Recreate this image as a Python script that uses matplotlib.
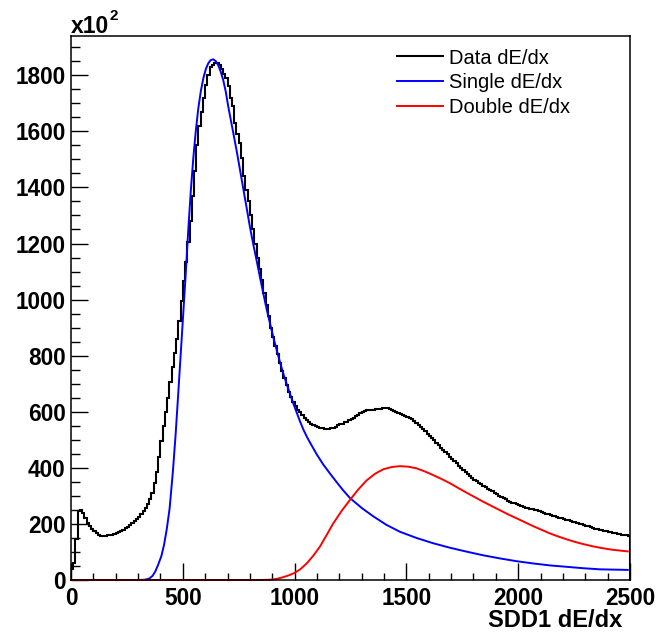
import matplotlib
matplotlib.use("Agg")
import matplotlib.pyplot as plt
from matplotlib.ticker import MultipleLocator
import numpy as np

plt.rcParams['font.family'] = ['Liberation Sans', 'DejaVu Sans']

# histogram: 250 bins of width 10 from 0 to 2500, counts in units of 10^2
bin_edges = np.arange(0, 2501, 10)
data_counts = [
    40, 62, 145, 245, 250, 240, 222, 205, 192, 183,
    174, 167, 162, 158, 156, 157, 160, 159, 161, 165,
    168, 171, 175, 180, 186, 190, 196, 203, 210, 218,
    226, 236, 246, 258, 272, 290, 312, 345, 385, 440,
    495, 550, 600, 650, 705, 760, 810, 860, 925, 995,
    1065, 1135, 1205, 1280, 1370, 1460, 1550, 1620, 1670, 1720,
    1765, 1800, 1830, 1838, 1842, 1845, 1835, 1822, 1805, 1790,
    1760, 1720, 1690, 1630, 1590, 1560, 1505, 1440, 1390, 1350,
    1300, 1250, 1200, 1150, 1110, 1070, 1025, 980, 940, 900,
    865, 835, 805, 775, 745, 720, 695, 672, 652, 635,
    622, 608, 598, 588, 578, 570, 563, 556, 552, 548,
    545, 543, 541, 540, 539, 540, 541, 543, 547, 551,
    555, 558, 562, 565, 570, 574, 579, 584, 590, 594,
    600, 604, 606, 607, 608, 608, 609, 610, 610, 613,
    615, 612, 609, 606, 603, 600, 597, 593, 589, 586,
    582, 578, 573, 566, 560, 553, 545, 537, 530, 522,
    514, 506, 498, 490, 482, 472, 465, 456, 448, 440,
    432, 424, 416, 408, 399, 392, 385, 377, 370, 364,
    358, 352, 347, 343, 336, 331, 326, 321, 316, 311,
    305, 300, 296, 292, 288, 283, 279, 276, 273, 270,
    266, 263, 260, 258, 256, 254, 253, 251, 248, 245,
    243, 240, 237, 235, 232, 230, 227, 225, 222, 220,
    218, 215, 213, 211, 208, 206, 204, 201, 199, 196,
    193, 191, 188, 186, 183, 181, 179, 177, 175, 173,
    171, 170, 168, 166, 165, 164, 162, 160, 159, 157,
]

# single dE/dx fit curve
single_x = [0, 300, 330, 350, 365, 378, 390, 404, 416, 428, 441, 456, 468, 480,
            491, 502, 514, 525, 536, 547, 558, 569, 581, 592, 603, 614, 625, 636,
            648, 659, 670, 681, 692, 703, 722, 741, 756, 771, 786, 800, 815, 830,
            845, 860, 875, 890, 905, 920, 935, 949, 964, 979, 994, 1009, 1024,
            1039, 1054, 1069, 1099, 1128, 1158, 1188, 1218, 1248, 1300, 1352,
            1410, 1471, 1545, 1620, 1695, 1770, 1844, 1918, 1993, 2067, 2142,
            2217, 2291, 2366, 2430, 2490]
single_y = [0, 0, 1, 5, 15, 32, 55, 85, 125, 180, 255, 390, 520, 670,
            810, 950, 1105, 1255, 1390, 1505, 1600, 1680, 1745, 1790, 1822, 1843, 1854, 1857,
            1850, 1835, 1812, 1782, 1742, 1690, 1610, 1530, 1462, 1393, 1325, 1260, 1198, 1140,
            1080, 1022, 966, 915, 865, 820, 776, 737, 700, 665, 630, 598, 566,
            537, 512, 490, 448, 412, 380, 349, 319, 292, 257, 227,
            197, 172, 150, 131, 115, 101, 88, 77, 67, 59, 52,
            47, 42, 38, 37, 36]

# double dE/dx fit curve
double_x = [0, 850, 890, 920, 949, 975, 999, 1025, 1054, 1084, 1114, 1143, 1173,
            1210, 1248, 1285, 1322, 1360, 1397, 1435, 1471, 1510, 1546, 1583, 1620,
            1658, 1695, 1732, 1770, 1807, 1844, 1881, 1918, 1955, 1993, 2030, 2067,
            2105, 2142, 2180, 2217, 2254, 2291, 2329, 2366, 2420, 2490]
double_y = [0, 0, 1, 4, 10, 17, 25, 38, 59, 87, 120, 160, 202,
            246, 286, 323, 355, 379, 395, 403, 406, 404, 398, 387, 374,
            360, 345, 328, 311, 295, 279, 264, 249, 234, 220, 206, 192,
            179, 166, 155, 145, 136, 128, 121, 115, 108, 102]

fig = plt.figure(figsize=(6.57, 6.34), dpi=100)
ax = fig.add_axes([71/657, 54/634, 559/657, 544/634])

ax.stairs(data_counts, bin_edges, color='black', lw=1.5, label='Data dE/dx')
ax.plot(single_x, single_y, color='#0000ff', lw=1.4, label='Single dE/dx', clip_on=False)
ax.plot(double_x, double_y, color='#ff0000', lw=1.4, label='Double dE/dx', clip_on=False)

ax.set_xlim(0, 2500)
ax.set_ylim(0, 1940)
ax.xaxis.set_major_locator(MultipleLocator(500))
ax.xaxis.set_minor_locator(MultipleLocator(100))
ax.yaxis.set_major_locator(MultipleLocator(200))
ax.yaxis.set_minor_locator(MultipleLocator(50))
ax.tick_params(which='both', direction='in', top=False, right=False, width=1.0)
ax.tick_params(axis='x', which='major', length=12, pad=5)
ax.tick_params(axis='x', which='minor', length=5)
ax.tick_params(axis='y', which='major', length=12, pad=4)
ax.tick_params(axis='y', which='minor', length=6.5)
for lab in ax.get_xticklabels() + ax.get_yticklabels():
    lab.set_fontsize(16.3)
    lab.set_fontweight('bold')
for sp in ax.spines.values():
    sp.set_linewidth(1.1)

fig.text(622/657, 1 - 627/634, 'SDD1 dE/dx', fontsize=17, fontweight='bold',
         ha='right', va='baseline')
fig.text(71/657, 1 - 33/634, 'x10', fontsize=16.5, fontweight='bold', ha='left', va='baseline')
fig.text(109/657, 1 - 20/634, '2', fontsize=11, fontweight='bold', ha='left', va='baseline')

ax.legend(loc='upper left', bbox_to_anchor=(0.583, 0.977), frameon=False,
          fontsize=14.5, handlelength=2.3, handletextpad=0.3, labelspacing=0.28,
          borderpad=0, borderaxespad=0)

fig.savefig('out.png', dpi=100)
